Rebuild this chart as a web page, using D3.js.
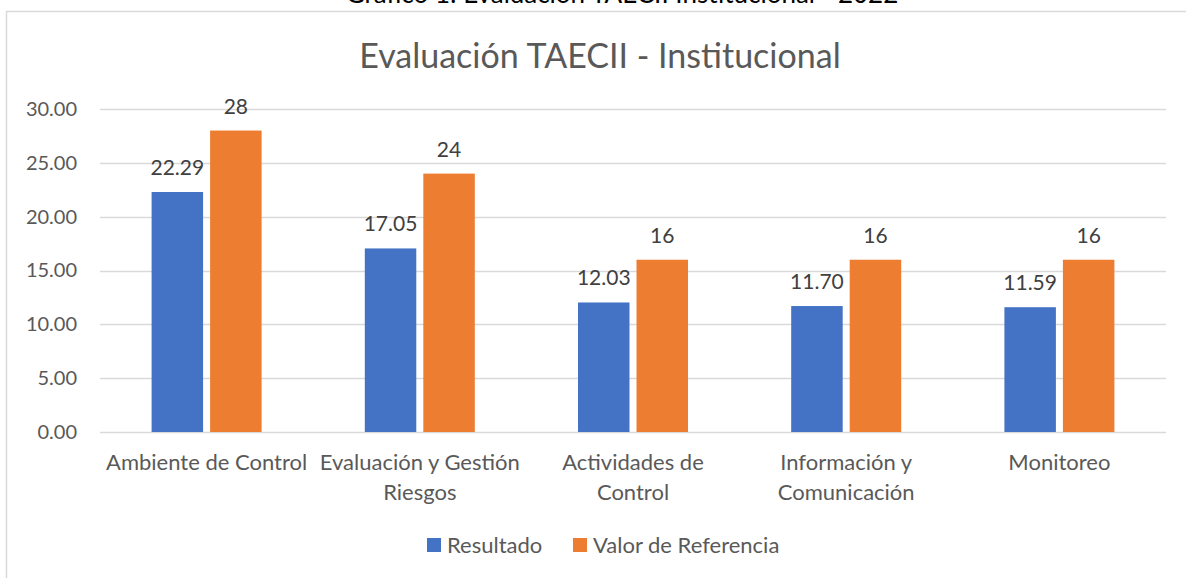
<!DOCTYPE html>
<html>
<head>
<meta charset="utf-8">
<script src="https://cdn.jsdelivr.net/npm/d3@7"></script>
<style>
  body { margin: 0; background: #fff; }
  text { font-family: Lato, "Open Sans", sans-serif; }
</style>
</head>
<body>
<svg id="chart" width="1186" height="578"></svg>
<script>
var caption = "Gráfico 1: Evaluación TAECII Institucional - 2022";
var title = "Evaluación TAECII - Institucional";

// categories, one entry per group, "\n" marks where the label wraps
var categories = [
  "Ambiente de Control",
  "Evaluación y Gestión\nRiesgos",
  "Actividades de\nControl",
  "Información y\nComunicación",
  "Monitoreo"
];
var seriesNames = ["Resultado", "Valor de Referencia"];
var resultado = [22.29, 17.05, 12.03, 11.70, 11.59];
var referencia = [28, 24, 16, 16, 16];
var yTicks = [0, 5, 10, 15, 20, 25, 30];

var colors = ["#4472C4", "#ED7D31"];
var textColor = "#595959";

var svg = d3.select("#chart");
var width = 1186, height = 578;
var margin = { top: 109, left: 100 };
var plotRight = 1166;

svg.append("rect")
  .attr("width", width).attr("height", height)
  .attr("fill", "#fff");

// chart frame (runs past the right and bottom edges)
svg.append("rect")
  .attr("x", 6.5).attr("y", 11.5)
  .attr("width", 1300).attr("height", 700)
  .attr("fill", "none")
  .attr("stroke", "#d9d9d9")
  .attr("stroke-width", 1.5);

// caption above the frame, mostly cut off like in the source
svg.append("text")
  .attr("x", 622).attr("y", 3)
  .attr("text-anchor", "middle")
  .attr("font-size", 26)
  .attr("fill", "#000")
  .text(caption);

svg.append("text")
  .attr("x", 600).attr("y", 68)
  .attr("text-anchor", "middle")
  .attr("font-size", 34)
  .attr("fill", textColor)
  .text(title);

var x0 = d3.scaleBand()
  .domain(d3.range(categories.length))
  .range([margin.left, plotRight]);

var x1 = d3.scaleBand()
  .domain([0, 1])
  .range([x0.bandwidth() / 2 - 55, x0.bandwidth() / 2 + 55])
  .paddingInner(0.12)
  .paddingOuter(0);

var y = d3.scaleLinear()
  .domain([0, 30])
  .range([432, margin.top]);

// gridlines
svg.append("g")
  .selectAll("line")
  .data(yTicks)
  .join("line")
  .attr("x1", margin.left).attr("x2", plotRight)
  .attr("y1", function (d) { return Math.round(y(d)) + 0.5; })
  .attr("y2", function (d) { return Math.round(y(d)) + 0.5; })
  .attr("stroke", "#d9d9d9")
  .attr("stroke-width", 1.3);

// y axis labels
var yAxis = d3.axisLeft(y)
  .tickValues(yTicks)
  .tickFormat(d3.format(".2f"))
  .tickSize(0)
  .tickPadding(0);

var yg = svg.append("g")
  .attr("transform", "translate(77,0)")
  .call(yAxis);
yg.select(".domain").remove();
yg.selectAll("text")
  .attr("font-size", 20)
  .attr("fill", textColor)
  .attr("font-family", "Lato, sans-serif");

var series = [resultado, referencia];

// bars + labels
series.forEach(function (values, s) {
  var g = svg.append("g");
  g.selectAll("rect")
    .data(values)
    .join("rect")
    .attr("x", function (d, i) { return x0(i) + x1(s); })
    .attr("y", function (d) { return y(d); })
    .attr("width", x1.bandwidth())
    .attr("height", function (d) { return y(0) - y(d); })
    .attr("fill", colors[s]);

  g.selectAll("text")
    .data(values)
    .join("text")
    .attr("x", function (d, i) { return x0(i) + x1(s) + x1.bandwidth() / 2; })
    .attr("y", function (d) { return y(d) - 17; })
    .attr("text-anchor", "middle")
    .attr("font-size", 21)
    .attr("fill", "#404040")
    .text(function (d) { return s === 0 ? d.toFixed(2) : d3.format("d")(d); });
});

// category labels
var xg = svg.append("g");
categories.forEach(function (c, i) {
  var cx = x0(i) + x0.bandwidth() / 2;
  var t = xg.append("text")
    .attr("x", cx)
    .attr("y", 470)
    .attr("text-anchor", "middle")
    .attr("font-size", 22)
    .attr("fill", textColor);
  c.split("\n").forEach(function (line, k) {
    t.append("tspan")
      .attr("x", cx)
      .attr("dy", k === 0 ? 0 : 30)
      .text(line);
  });
});

// legend
var legendX = [427, 573];
var legend = svg.append("g");
seriesNames.forEach(function (name, s) {
  legend.append("rect")
    .attr("x", legendX[s]).attr("y", 538)
    .attr("width", 14).attr("height", 14)
    .attr("fill", colors[s]);
  legend.append("text")
    .attr("x", legendX[s] + 20).attr("y", 553)
    .attr("font-size", 22)
    .attr("fill", textColor)
    .text(name);
});
</script>
</body>
</html>
